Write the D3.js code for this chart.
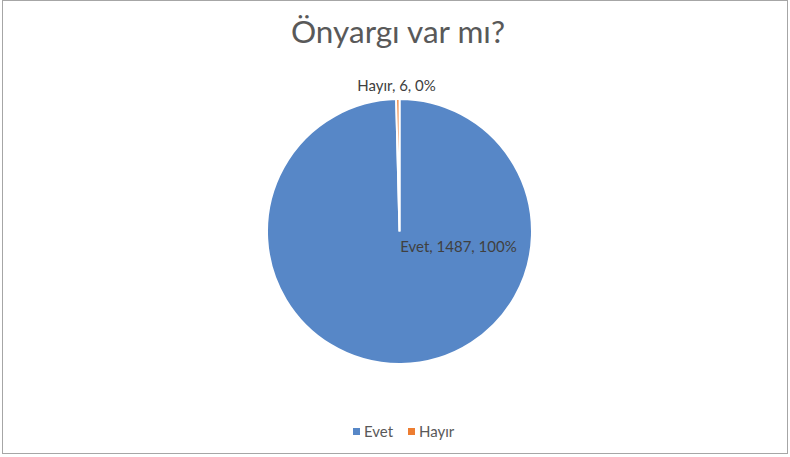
<!DOCTYPE html>
<html>
<head>
<meta charset="utf-8">
<script src="https://cdn.jsdelivr.net/npm/d3@7"></script>
<style>
body { margin: 0; background: #fff; }
svg { display: block; font-family: Lato, "Noto Sans", sans-serif; }
</style>
</head>
<body>
<svg width="790" height="457"></svg>
<script>
var categories = ['Evet', 'Hayır'];
var values = [1487, 6];
var percents = ['100%', '0%'];
var colors = ['#5787c7', '#ed7d31'];
var title = 'Önyargı var mı?';

var svg = d3.select('svg');

// chart frame
svg.append('rect')
	.attr('x', 2.5).attr('y', 0.5)
	.attr('width', 785).attr('height', 453)
	.attr('fill', '#fff')
	.attr('stroke', '#a6a6a6');

svg.append('text')
	.attr('x', 398).attr('y', 43)
	.attr('text-anchor', 'middle')
	.attr('font-size', 31.5)
	.attr('fill', '#595959')
	.text(title);

var cx = 399.5, cy = 231.5, r = 132.5;
var data = categories.map(function(c, i){
	return {name: c, value: values[i], pct: percents[i], color: colors[i]};
});

var pie = d3.pie().sort(null).value(function(d){ return d.value; });
var arc = d3.arc().innerRadius(0).outerRadius(r);
var arcs = pie(data);

var g = svg.append('g').attr('transform', 'translate(' + cx + ',' + cy + ')');
g.selectAll('path').data(arcs).enter().append('path')
	.attr('d', arc)
	.attr('fill', function(d){ return d.data.color; })
	.attr('stroke', '#fff')
	.attr('stroke-width', 2);

// data labels
var labelPos = [[59, 20], [-3, -141]];
g.selectAll('text.lbl').data(arcs).enter().append('text')
	.attr('class', 'lbl')
	.attr('x', function(d, i){ return labelPos[i][0]; })
	.attr('y', function(d, i){ return labelPos[i][1]; })
	.attr('text-anchor', 'middle')
	.attr('font-size', 15)
	.attr('fill', '#404040')
	.text(function(d){ return d.data.name + ', ' + d.data.value + ', ' + d.data.pct; });

// legend
var legendX = [353, 408];
var lg = svg.selectAll('g.leg').data(data).enter().append('g')
	.attr('class', 'leg')
	.attr('transform', function(d, i){ return 'translate(' + legendX[i] + ',432)'; });
lg.append('rect')
	.attr('x', 0).attr('y', -4)
	.attr('width', 7).attr('height', 7)
	.attr('fill', function(d){ return d.color; });
lg.append('text')
	.attr('x', 11).attr('y', 5)
	.attr('font-size', 15)
	.attr('fill', '#595959')
	.text(function(d){ return d.name; });
</script>
</body>
</html>
